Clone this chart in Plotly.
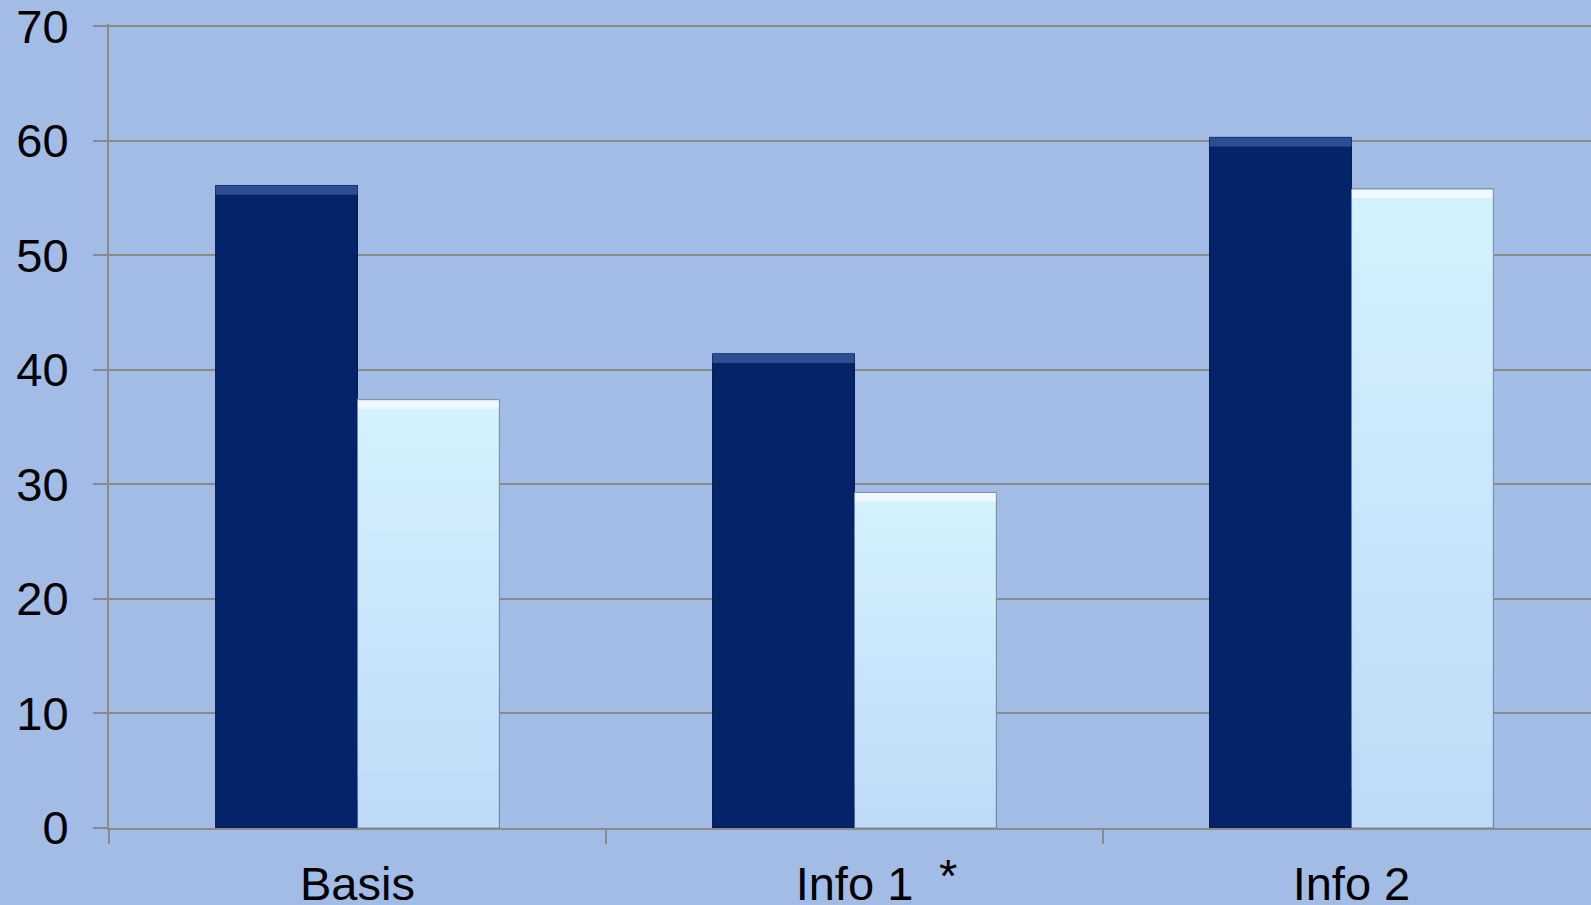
import plotly.graph_objects as go

categories = ["Basis", "Info 1", "Info 2"]
series_dark = [56.1, 41.4, 60.3]
series_light = [37.4, 29.3, 55.8]
y_ticks = [0, 10, 20, 30, 40, 50, 60, 70]

BG = "#A3BCE6"
GRID = "#8A8A8A"
DARK = "#04246A"
DARK_TOP = "#2D4E93"
LIGHT_BOTTOM = (190, 218, 248)
LIGHT_TOP = (213, 242, 254)
LIGHT_BEVEL = "#EEFAFF"
FONT = "Liberation Sans, Arial, sans-serif"

fig = go.Figure()

# dark series
fig.add_trace(go.Bar(x=categories, y=series_dark, offsetgroup="a",
                     marker=dict(color=DARK, line=dict(width=1, color="#02184A")), name="dark"))
bev = 0.8
fig.add_trace(go.Bar(x=categories, y=[bev] * 3, base=[v - bev for v in series_dark], offsetgroup="a",
                     marker=dict(color=DARK_TOP, line=dict(width=0)), hoverinfo="skip", showlegend=False))

# light series with vertical gradient (each layer covers from its base up to the bar top)
N = 16
for i in range(N):
    t = (i + 0.5) / N
    c = tuple(int(round(LIGHT_BOTTOM[k] + (LIGHT_TOP[k] - LIGHT_BOTTOM[k]) * t)) for k in range(3))
    fig.add_trace(go.Bar(x=categories, y=[v - v * i / N for v in series_light], base=[v * i / N for v in series_light],
                         offsetgroup="b", marker=dict(color="rgb(%d,%d,%d)" % c, line=dict(width=0)),
                         hoverinfo="skip", showlegend=False))
fig.add_trace(go.Bar(x=categories, y=[bev] * 3, base=[v - bev for v in series_light], offsetgroup="b",
                     marker=dict(color=LIGHT_BEVEL, line=dict(width=0)), hoverinfo="skip", showlegend=False))
fig.add_trace(go.Bar(x=categories, y=series_light, offsetgroup="b", name="light",
                     marker=dict(color="rgba(0,0,0,0)", line=dict(width=1, color="rgba(70,90,120,0.7)"))))

fig.add_annotation(x=1, y=0, xref="x", yref="paper", text="*", showarrow=False,
                   xshift=94, yshift=-19, yanchor="top",
                   font=dict(family=FONT, size=47, color="black"))

fig.update_layout(
    width=1591, height=905,
    margin=dict(l=109, r=0, t=24, b=77, autoexpand=False),
    paper_bgcolor=BG, plot_bgcolor=BG,
    barmode="group", bargap=0.429, bargroupgap=0,
    showlegend=False,
    font=dict(family=FONT, size=47, color="black"),
)
fig.update_xaxes(range=[-0.5, 2.482], showgrid=False, showline=True, linecolor=GRID, linewidth=2,
                 ticks="outside", tickson="boundaries", ticklen=14, tickwidth=2, tickcolor=GRID,
                 tickfont=dict(size=47), ticklabelstandoff=14, automargin=False, ticklabeloverflow="allow")
fig.update_yaxes(range=[0, 70.2], tickvals=y_ticks, showgrid=True, gridcolor=GRID, gridwidth=2,
                 showline=True, linecolor=GRID, linewidth=2, zeroline=False,
                 ticks="outside", ticklen=14, tickwidth=2, tickcolor=GRID,
                 tickfont=dict(size=47), ticklabelstandoff=15, automargin=False, ticklabeloverflow="allow")

fig.write_html("out.html")
